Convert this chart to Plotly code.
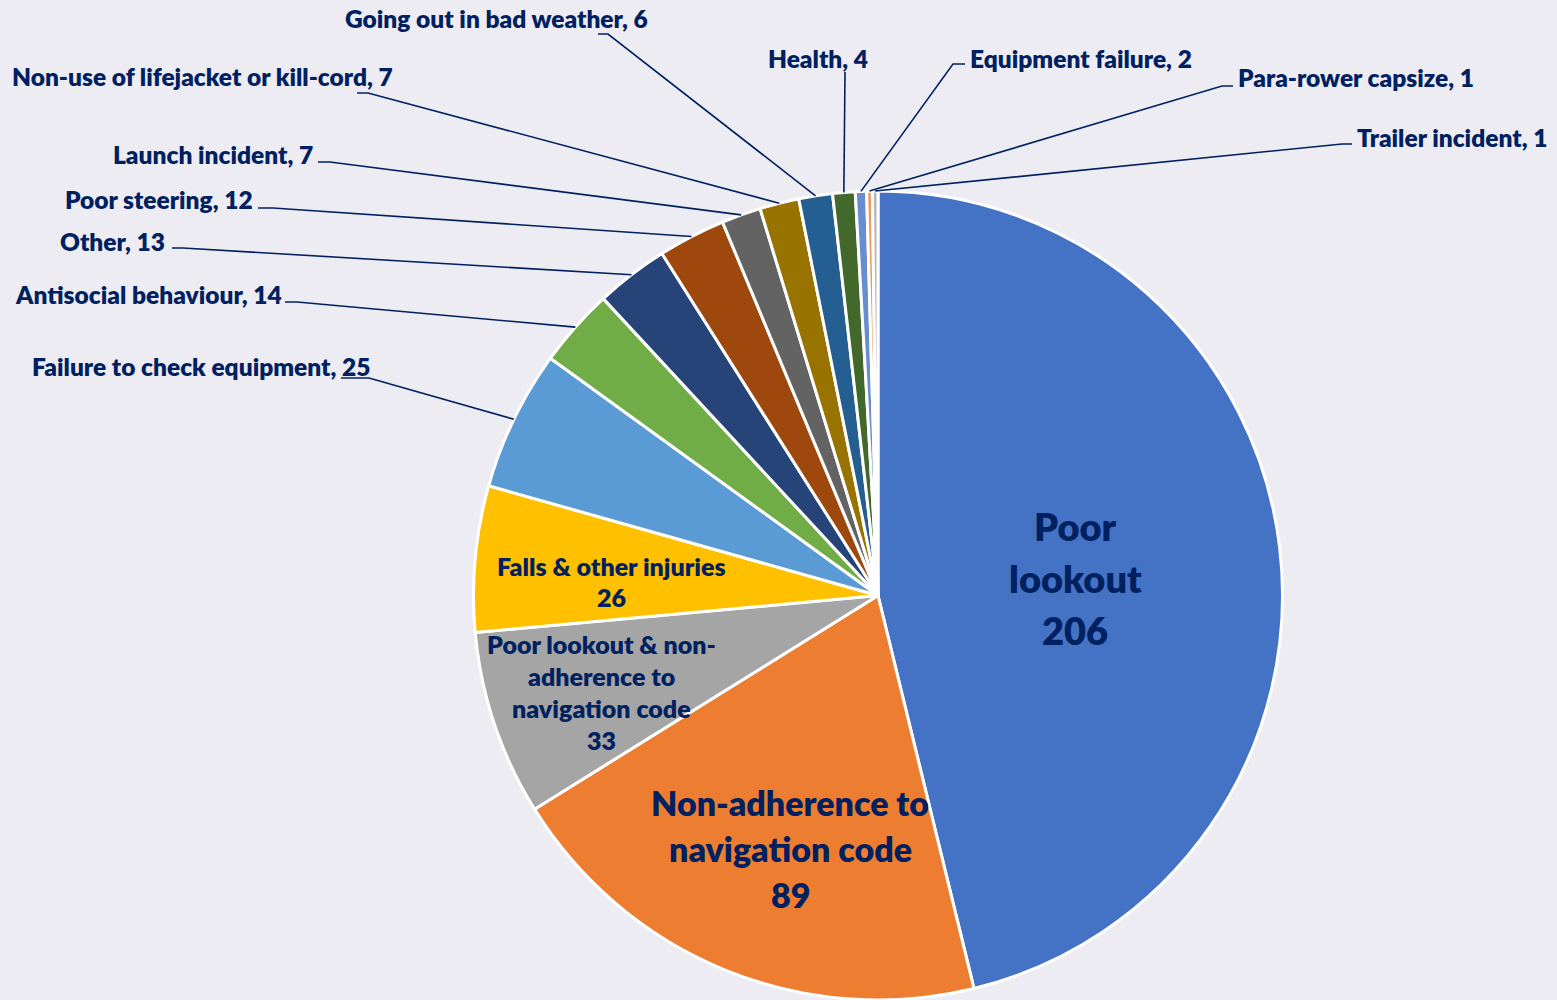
import math
import plotly.graph_objects as go

# ---------------- data ----------------
categories = [
    "Poor lookout",
    "Non-adherence to navigation code",
    "Poor lookout & non-adherence to navigation code",
    "Falls & other injuries",
    "Failure to check equipment",
    "Antisocial behaviour",
    "Other",
    "Poor steering",
    "Launch incident",
    "Non-use of lifejacket or kill-cord",
    "Going out in bad weather",
    "Health",
    "Equipment failure",
    "Para-rower capsize",
    "Trailer incident",
]
values = [206, 89, 33, 26, 25, 14, 13, 12, 7, 7, 6, 4, 2, 1, 1]
colors = [
    "#4472C4", "#ED7D31", "#A5A5A5", "#FFC000", "#5B9BD5",
    "#70AD47", "#264478", "#9E480E", "#636363", "#997300",
    "#255E91", "#43682B", "#698ED0", "#F1975A", "#B7B7B7",
]

# ---------------- layout constants ----------------
W, H = 1557, 1000
CX, CY, R = 878, 596, 405
BG = "#EDECF2"
TXT = "#002060"
FONT = "Lato"
WEIGHT = 800

x0, x1 = (CX - R) / W, (CX + R) / W
y0, y1 = max(0.0, 1 - (CY + R) / H), 1 - (CY - R) / H
# actual pie geometry produced by plotly from the domain
cx_px = W * (x0 + x1) / 2
cy_px = H * (1 - (y0 + y1) / 2)
r_px = min(W * (x1 - x0), H * (y1 - y0)) / 2


def px(x, y):
    return x / W, 1 - y / H


total = sum(values)
cum = 0
mids = []
for v in values:
    mids.append((cum + v / 2) / total * 2 * math.pi)
    cum += v


def edge(i):
    a = mids[i]
    return cx_px + r_px * math.sin(a), cy_px - r_px * math.cos(a)


fig = go.Figure()
fig.add_trace(go.Pie(
    labels=categories,
    values=values,
    sort=False,
    direction="clockwise",
    rotation=0,
    marker=dict(colors=colors, line=dict(color="white", width=3)),
    textinfo="none",
    hoverinfo="label+value",
    domain=dict(x=[x0, x1], y=[y0, y1]),
    showlegend=False,
))

annotations = []
shapes = []

# inside labels: (slice index, text lines, centre x, first line y, line step, font size)
inside = [
    (0, ["Poor", "lookout"], 1075, 526, 52, 38),
    (1, ["Non-adherence to", "navigation code"], 790, 802, 46, 34),
    (2, ["Poor lookout & non-", "adherence to", "navigation code"], 601, 644, 32, 25),
    (3, ["Falls & other injuries"], 611, 566, 31, 25),
]
for idx, lines, xc, ys, step, fs in inside:
    all_lines = lines + [str(values[idx])]
    for k, line in enumerate(all_lines):
        xx, yy = px(xc, ys + k * step)
        annotations.append(dict(
            x=xx, y=yy, xref="paper", yref="paper", text=line, showarrow=False,
            xanchor="center", yanchor="middle",
            font=dict(family=FONT, size=fs, color=TXT, weight=WEIGHT),
        ))

# outside labels: (slice index, text x, text y, anchor, stub start x, stub end x, stub y)
outside = [
    (4, 372, 366, "right", 341, 369, 378),
    (5, 284, 294, "right", 285, 297, 302),
    (6, 167, 241, "right", 172, 183, 248),
    (7, 255, 200, "right", 258, 273, 208),
    (8, 315, 154, "right", 318, 330, 162),
    (9, 395, 77, "right", 357, 368, 93),
    (10, 650, 18, "right", 598, 608, 34),
    (11, 818, 58, "center", 845, 845, 72),
    (12, 968, 58, "left", 965, 953, 64),
    (13, 1236, 78, "left", 1233, 1222, 86),
    (14, 1355, 137, "left", 1352, 1342, 144),
]
for idx, tx, ty, anc, sx0, sx1, sy in outside:
    xx, yy = px(tx, ty)
    annotations.append(dict(
        x=xx, y=yy, xref="paper", yref="paper",
        text=f"{categories[idx]}, {values[idx]}", showarrow=False,
        xanchor=anc, yanchor="middle",
        font=dict(family=FONT, size=24.5, color=TXT, weight=WEIGHT),
    ))
    ex, ey = edge(idx)
    a = px(sx0, sy)
    b = px(sx1, sy)
    c = px(ex, ey)
    shapes.append(dict(
        type="path", xref="paper", yref="paper",
        path=f"M {a[0]},{a[1]} L {b[0]},{b[1]} L {c[0]},{c[1]}",
        line=dict(color=TXT, width=1.6),
    ))

fig.update_layout(
    width=W, height=H,
    margin=dict(l=0, r=0, t=0, b=0),
    paper_bgcolor=BG,
    plot_bgcolor=BG,
    annotations=annotations,
    shapes=shapes,
)

fig.write_html(
    "out.html",
    config={"displayModeBar": False},
    post_script="document.body.style.margin='0';document.body.style.background='" + BG + "';",
)
